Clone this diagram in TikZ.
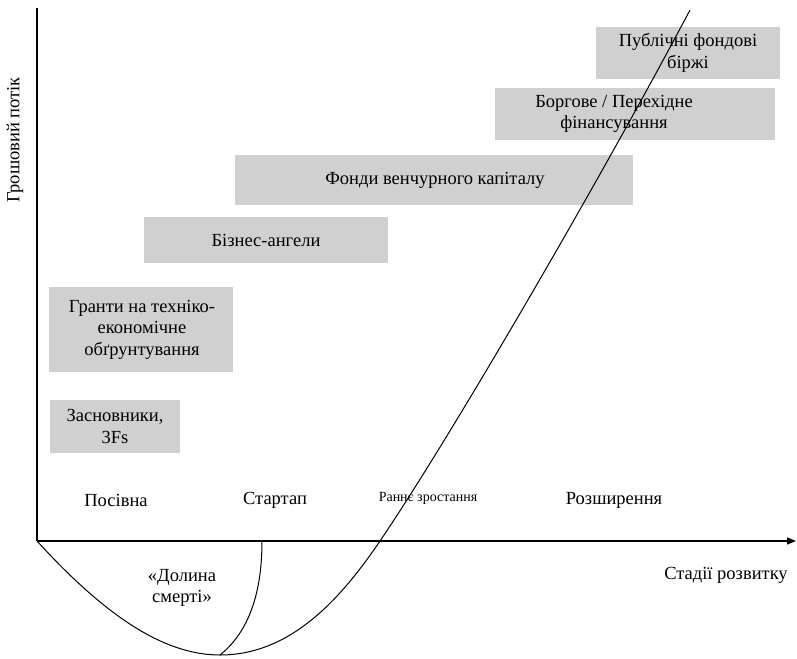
\documentclass[tikz,border=0pt]{standalone}
\usepackage{fontspec}
\setmainfont{Liberation Serif}
\usetikzlibrary{arrows.meta}
\definecolor{boxgray}{RGB}{208,208,208}
\begin{document}
\begin{tikzpicture}[x=1pt,y=-1pt,
  box/.style={fill=boxgray, draw=none, inner sep=0pt},
  txt/.style={font=\fontsize{18.5}{21.5}\selectfont, align=center, inner sep=0pt},
  small/.style={font=\fontsize{14}{16}\selectfont, inner sep=0pt},
  axis/.style={line width=1.3pt},
  curve/.style={line width=1pt}]
\useasboundingbox (0,0) rectangle (797,658);
% axes
\coordinate (O) at (37,541);
\coordinate (ytop) at (37,8);
\coordinate (xend) at (796,541);
\draw[axis] (ytop) -- (O);
\draw[axis,-{Triangle[length=9pt,width=7pt]}] (O) -- (xend);
\node[txt, rotate=90] (ylab) at (15,140) {Грошовий потік};
% boxes
\node[box, minimum width=184, minimum height=52] (pub) at (688,53) {};
\node[txt] (pubt) at (688,53) {Публічні фондові\\біржі};
\node[box, minimum width=280, minimum height=52] (debt) at (635,114) {};
\node[txt] (debtt) at (614,114) {Боргове / Перехідне\\фінансування};
\node[box, minimum width=398, minimum height=50] (vc) at (434,180) {};
\node[txt] (vct) at (435,180) {Фонди венчурного капіталу};
\node[box, minimum width=244, minimum height=46] (ba) at (266,240) {};
\node[txt] (bat) at (266,240) {Бізнес-ангели};
\node[box, minimum width=184, minimum height=85] (gr) at (141,329.5) {};
\node[txt] (grt) at (142,329.5) {Гранти на техніко-\\економічне\\обґрунтування};
\node[box, minimum width=130, minimum height=53] (zs) at (115,426.5) {};
\node[txt] (zst) at (115,426.5) {Засновники,\\3Fs};
% stage labels
\node[txt] (s1) at (116,500) {Посівна};
\node[txt] (s2) at (275,500) {Стартап};
\node[small] (s3) at (428,498) {Раннє зростання};
\node[txt] (s4) at (614,500) {Розширення};
\node[txt] (dol) at (182,588) {«Долина\\смерті»};
\node[txt] (xlab) at (726,575) {Стадії розвитку};
% curves
\coordinate (bot) at (220,655);
\coordinate (cross) at (380,541);
\coordinate (top) at (690,10);
\coordinate (st) at (262,541);
\draw[curve] (O) .. controls (100,610) and (160,655) .. (bot)
  .. controls (290,655) and (340,600) .. (cross)
  .. controls (450,438) and (600,180) .. (top);
\draw[curve] (st) .. controls (262,600) and (245,635) .. (bot);
\end{tikzpicture}
\end{document}
